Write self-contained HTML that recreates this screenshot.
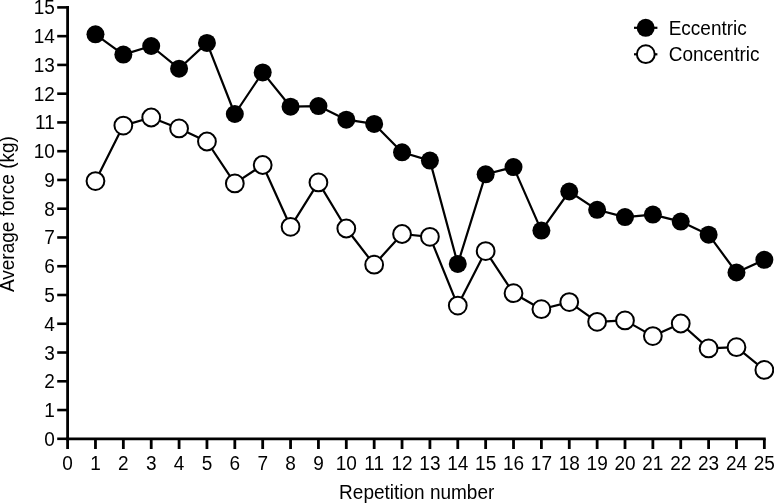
<!DOCTYPE html>
<html><head><meta charset="utf-8"><style>
html,body{margin:0;padding:0;background:#fff;}
body{width:774px;height:503px;overflow:hidden;}
svg{display:block;}
</style></head><body>
<svg width="774" height="503" viewBox="0 0 774 503">
<g stroke="#000" stroke-width="2.8" fill="none" stroke-linecap="butt">
<path d="M67.60 6.1 L67.60 440.20" />
<path d="M66.20 438.80 L765.75 438.80" />
</g>
<g stroke="#000" stroke-width="2.6">
<line x1="57.2" y1="438.80" x2="67.60" y2="438.80"/>
<line x1="57.2" y1="410.04" x2="67.60" y2="410.04"/>
<line x1="57.2" y1="381.28" x2="67.60" y2="381.28"/>
<line x1="57.2" y1="352.52" x2="67.60" y2="352.52"/>
<line x1="57.2" y1="323.76" x2="67.60" y2="323.76"/>
<line x1="57.2" y1="295.00" x2="67.60" y2="295.00"/>
<line x1="57.2" y1="266.24" x2="67.60" y2="266.24"/>
<line x1="57.2" y1="237.48" x2="67.60" y2="237.48"/>
<line x1="57.2" y1="208.72" x2="67.60" y2="208.72"/>
<line x1="57.2" y1="179.96" x2="67.60" y2="179.96"/>
<line x1="57.2" y1="151.20" x2="67.60" y2="151.20"/>
<line x1="57.2" y1="122.44" x2="67.60" y2="122.44"/>
<line x1="57.2" y1="93.68" x2="67.60" y2="93.68"/>
<line x1="57.2" y1="64.92" x2="67.60" y2="64.92"/>
<line x1="57.2" y1="36.16" x2="67.60" y2="36.16"/>
<line x1="57.2" y1="7.40" x2="67.60" y2="7.40"/>
</g>
<g stroke="#000" stroke-width="2.8">
<line x1="67.60" y1="438.80" x2="67.60" y2="449"/>
<line x1="95.47" y1="438.80" x2="95.47" y2="449"/>
<line x1="123.34" y1="438.80" x2="123.34" y2="449"/>
<line x1="151.21" y1="438.80" x2="151.21" y2="449"/>
<line x1="179.08" y1="438.80" x2="179.08" y2="449"/>
<line x1="206.95" y1="438.80" x2="206.95" y2="449"/>
<line x1="234.82" y1="438.80" x2="234.82" y2="449"/>
<line x1="262.69" y1="438.80" x2="262.69" y2="449"/>
<line x1="290.56" y1="438.80" x2="290.56" y2="449"/>
<line x1="318.43" y1="438.80" x2="318.43" y2="449"/>
<line x1="346.30" y1="438.80" x2="346.30" y2="449"/>
<line x1="374.17" y1="438.80" x2="374.17" y2="449"/>
<line x1="402.04" y1="438.80" x2="402.04" y2="449"/>
<line x1="429.91" y1="438.80" x2="429.91" y2="449"/>
<line x1="457.78" y1="438.80" x2="457.78" y2="449"/>
<line x1="485.65" y1="438.80" x2="485.65" y2="449"/>
<line x1="513.52" y1="438.80" x2="513.52" y2="449"/>
<line x1="541.39" y1="438.80" x2="541.39" y2="449"/>
<line x1="569.26" y1="438.80" x2="569.26" y2="449"/>
<line x1="597.13" y1="438.80" x2="597.13" y2="449"/>
<line x1="625.00" y1="438.80" x2="625.00" y2="449"/>
<line x1="652.87" y1="438.80" x2="652.87" y2="449"/>
<line x1="680.74" y1="438.80" x2="680.74" y2="449"/>
<line x1="708.61" y1="438.80" x2="708.61" y2="449"/>
<line x1="736.48" y1="438.80" x2="736.48" y2="449"/>
<line x1="764.35" y1="438.80" x2="764.35" y2="449"/>
</g>
<g font-family="'Liberation Sans', Arial, Helvetica, sans-serif" font-size="19" fill="#000">
<text transform="translate(54.80 445.80) scale(1 1.05)" text-anchor="end">0</text>
<text transform="translate(54.80 417.04) scale(1 1.05)" text-anchor="end">1</text>
<text transform="translate(54.80 388.28) scale(1 1.05)" text-anchor="end">2</text>
<text transform="translate(54.80 359.52) scale(1 1.05)" text-anchor="end">3</text>
<text transform="translate(54.80 330.76) scale(1 1.05)" text-anchor="end">4</text>
<text transform="translate(54.80 302.00) scale(1 1.05)" text-anchor="end">5</text>
<text transform="translate(54.80 273.24) scale(1 1.05)" text-anchor="end">6</text>
<text transform="translate(54.80 244.48) scale(1 1.05)" text-anchor="end">7</text>
<text transform="translate(54.80 215.72) scale(1 1.05)" text-anchor="end">8</text>
<text transform="translate(54.80 186.96) scale(1 1.05)" text-anchor="end">9</text>
<text transform="translate(54.80 158.20) scale(1 1.05)" text-anchor="end">10</text>
<text transform="translate(54.80 129.44) scale(1 1.05)" text-anchor="end">11</text>
<text transform="translate(54.80 100.68) scale(1 1.05)" text-anchor="end">12</text>
<text transform="translate(54.80 71.92) scale(1 1.05)" text-anchor="end">13</text>
<text transform="translate(54.80 43.16) scale(1 1.05)" text-anchor="end">14</text>
<text transform="translate(54.80 14.40) scale(1 1.05)" text-anchor="end">15</text>
<text transform="translate(67.60 469.50) scale(1 1.05)" text-anchor="middle">0</text>
<text transform="translate(95.47 469.50) scale(1 1.05)" text-anchor="middle">1</text>
<text transform="translate(123.34 469.50) scale(1 1.05)" text-anchor="middle">2</text>
<text transform="translate(151.21 469.50) scale(1 1.05)" text-anchor="middle">3</text>
<text transform="translate(179.08 469.50) scale(1 1.05)" text-anchor="middle">4</text>
<text transform="translate(206.95 469.50) scale(1 1.05)" text-anchor="middle">5</text>
<text transform="translate(234.82 469.50) scale(1 1.05)" text-anchor="middle">6</text>
<text transform="translate(262.69 469.50) scale(1 1.05)" text-anchor="middle">7</text>
<text transform="translate(290.56 469.50) scale(1 1.05)" text-anchor="middle">8</text>
<text transform="translate(318.43 469.50) scale(1 1.05)" text-anchor="middle">9</text>
<text transform="translate(346.30 469.50) scale(1 1.05)" text-anchor="middle">10</text>
<text transform="translate(374.17 469.50) scale(1 1.05)" text-anchor="middle">11</text>
<text transform="translate(402.04 469.50) scale(1 1.05)" text-anchor="middle">12</text>
<text transform="translate(429.91 469.50) scale(1 1.05)" text-anchor="middle">13</text>
<text transform="translate(457.78 469.50) scale(1 1.05)" text-anchor="middle">14</text>
<text transform="translate(485.65 469.50) scale(1 1.05)" text-anchor="middle">15</text>
<text transform="translate(513.52 469.50) scale(1 1.05)" text-anchor="middle">16</text>
<text transform="translate(541.39 469.50) scale(1 1.05)" text-anchor="middle">17</text>
<text transform="translate(569.26 469.50) scale(1 1.05)" text-anchor="middle">18</text>
<text transform="translate(597.13 469.50) scale(1 1.05)" text-anchor="middle">19</text>
<text transform="translate(625.00 469.50) scale(1 1.05)" text-anchor="middle">20</text>
<text transform="translate(652.87 469.50) scale(1 1.05)" text-anchor="middle">21</text>
<text transform="translate(680.74 469.50) scale(1 1.05)" text-anchor="middle">22</text>
<text transform="translate(708.61 469.50) scale(1 1.05)" text-anchor="middle">23</text>
<text transform="translate(736.48 469.50) scale(1 1.05)" text-anchor="middle">24</text>
<text transform="translate(764.35 469.50) scale(1 1.05)" text-anchor="middle">25</text>
<text transform="translate(416.70 498.70) scale(1 1.05)" text-anchor="middle">Repetition number</text>
<text transform="translate(13.60 214.10) rotate(-90) scale(1 1.05)" text-anchor="middle">Average force (kg)</text>
<text transform="translate(668.70 35.00) scale(1 1.05)" text-anchor="start">Eccentric</text>
<text transform="translate(668.70 61.40) scale(1 1.05)" text-anchor="start">Concentric</text>
</g>
<polyline points="95.47,181.1 123.34,125.6 151.21,117.5 179.08,128.4 206.95,141.5 234.82,183.4 262.69,165 290.56,226.8 318.43,182.4 346.30,228.5 374.17,264.7 402.04,234 429.91,236.8 457.78,305.6 485.65,251.1 513.52,293.2 541.39,309.2 569.26,302.1 597.13,321.8 625.00,320.4 652.87,336.1 680.74,323.5 708.61,348.4 736.48,347.2 764.35,369.9" fill="none" stroke="#000" stroke-width="2.2" stroke-linejoin="round"/>
<polyline points="95.47,34.3 123.34,54.6 151.21,46.0 179.08,68.7 206.95,42.9 234.82,114 262.69,72.4 290.56,106.7 318.43,106.1 346.30,119.7 374.17,123.9 402.04,152.3 429.91,160.6 457.78,263.9 485.65,174.3 513.52,167.1 541.39,230.6 569.26,191.5 597.13,209.8 625.00,217.1 652.87,214.6 680.74,221.6 708.61,234.7 736.48,272.5 764.35,259.8" fill="none" stroke="#000" stroke-width="2.2" stroke-linejoin="round"/>
<circle cx="95.47" cy="181.1" r="8.9" fill="#fff" stroke="#000" stroke-width="2"/>
<circle cx="123.34" cy="125.6" r="8.9" fill="#fff" stroke="#000" stroke-width="2"/>
<circle cx="151.21" cy="117.5" r="8.9" fill="#fff" stroke="#000" stroke-width="2"/>
<circle cx="179.08" cy="128.4" r="8.9" fill="#fff" stroke="#000" stroke-width="2"/>
<circle cx="206.95" cy="141.5" r="8.9" fill="#fff" stroke="#000" stroke-width="2"/>
<circle cx="234.82" cy="183.4" r="8.9" fill="#fff" stroke="#000" stroke-width="2"/>
<circle cx="262.69" cy="165" r="8.9" fill="#fff" stroke="#000" stroke-width="2"/>
<circle cx="290.56" cy="226.8" r="8.9" fill="#fff" stroke="#000" stroke-width="2"/>
<circle cx="318.43" cy="182.4" r="8.9" fill="#fff" stroke="#000" stroke-width="2"/>
<circle cx="346.30" cy="228.5" r="8.9" fill="#fff" stroke="#000" stroke-width="2"/>
<circle cx="374.17" cy="264.7" r="8.9" fill="#fff" stroke="#000" stroke-width="2"/>
<circle cx="402.04" cy="234" r="8.9" fill="#fff" stroke="#000" stroke-width="2"/>
<circle cx="429.91" cy="236.8" r="8.9" fill="#fff" stroke="#000" stroke-width="2"/>
<circle cx="457.78" cy="305.6" r="8.9" fill="#fff" stroke="#000" stroke-width="2"/>
<circle cx="485.65" cy="251.1" r="8.9" fill="#fff" stroke="#000" stroke-width="2"/>
<circle cx="513.52" cy="293.2" r="8.9" fill="#fff" stroke="#000" stroke-width="2"/>
<circle cx="541.39" cy="309.2" r="8.9" fill="#fff" stroke="#000" stroke-width="2"/>
<circle cx="569.26" cy="302.1" r="8.9" fill="#fff" stroke="#000" stroke-width="2"/>
<circle cx="597.13" cy="321.8" r="8.9" fill="#fff" stroke="#000" stroke-width="2"/>
<circle cx="625.00" cy="320.4" r="8.9" fill="#fff" stroke="#000" stroke-width="2"/>
<circle cx="652.87" cy="336.1" r="8.9" fill="#fff" stroke="#000" stroke-width="2"/>
<circle cx="680.74" cy="323.5" r="8.9" fill="#fff" stroke="#000" stroke-width="2"/>
<circle cx="708.61" cy="348.4" r="8.9" fill="#fff" stroke="#000" stroke-width="2"/>
<circle cx="736.48" cy="347.2" r="8.9" fill="#fff" stroke="#000" stroke-width="2"/>
<circle cx="764.35" cy="369.9" r="8.9" fill="#fff" stroke="#000" stroke-width="2"/>
<circle cx="95.47" cy="34.3" r="9" fill="#000"/>
<circle cx="123.34" cy="54.6" r="9" fill="#000"/>
<circle cx="151.21" cy="46.0" r="9" fill="#000"/>
<circle cx="179.08" cy="68.7" r="9" fill="#000"/>
<circle cx="206.95" cy="42.9" r="9" fill="#000"/>
<circle cx="234.82" cy="114" r="9" fill="#000"/>
<circle cx="262.69" cy="72.4" r="9" fill="#000"/>
<circle cx="290.56" cy="106.7" r="9" fill="#000"/>
<circle cx="318.43" cy="106.1" r="9" fill="#000"/>
<circle cx="346.30" cy="119.7" r="9" fill="#000"/>
<circle cx="374.17" cy="123.9" r="9" fill="#000"/>
<circle cx="402.04" cy="152.3" r="9" fill="#000"/>
<circle cx="429.91" cy="160.6" r="9" fill="#000"/>
<circle cx="457.78" cy="263.9" r="9" fill="#000"/>
<circle cx="485.65" cy="174.3" r="9" fill="#000"/>
<circle cx="513.52" cy="167.1" r="9" fill="#000"/>
<circle cx="541.39" cy="230.6" r="9" fill="#000"/>
<circle cx="569.26" cy="191.5" r="9" fill="#000"/>
<circle cx="597.13" cy="209.8" r="9" fill="#000"/>
<circle cx="625.00" cy="217.1" r="9" fill="#000"/>
<circle cx="652.87" cy="214.6" r="9" fill="#000"/>
<circle cx="680.74" cy="221.6" r="9" fill="#000"/>
<circle cx="708.61" cy="234.7" r="9" fill="#000"/>
<circle cx="736.48" cy="272.5" r="9" fill="#000"/>
<circle cx="764.35" cy="259.8" r="9" fill="#000"/>
<g stroke="#000" stroke-width="2.2"><line x1="634" y1="27.8" x2="657.4" y2="27.8"/><line x1="634" y1="54.3" x2="657.4" y2="54.3"/></g>
<circle cx="645.7" cy="27.8" r="9" fill="#000"/>
<circle cx="645.8" cy="54.2" r="8.9" fill="#fff" stroke="#000" stroke-width="2"/>
</svg>
</body></html>
